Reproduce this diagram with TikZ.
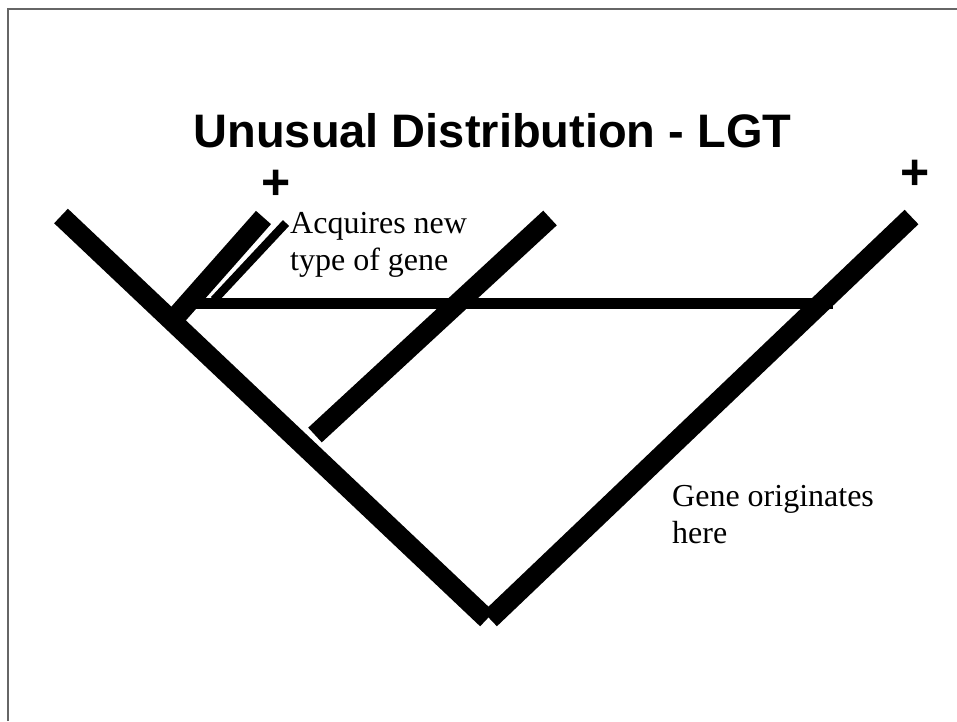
\documentclass[tikz,border=0pt]{standalone}
\usepackage{fontspec}
\setmainfont{Liberation Serif}
\newfontfamily\helv{Liberation Sans}
\begin{document}
\begin{tikzpicture}[x=1pt,y=-1pt,
  branch/.style={line width=20pt, line cap=butt},
  thinbranch/.style={line width=8.5pt, line cap=butt},
  transfer/.style={line width=11pt, line cap=butt},
  label/.style={inner sep=0pt, align=left, font=\fontsize{32}{37}\selectfont},
  plus/.style={inner sep=0pt, font=\helv\bfseries\fontsize{50}{50}\selectfont}]
\useasboundingbox (0,0) rectangle (957,721);
\draw[gray!80!black, line width=1.5pt] (8,721) -- (8,9) -- (957,9);
% coordinates
\coordinate (lt) at (61,216);
\coordinate (la) at (487,619);
\coordinate (ra) at (490,619);
\coordinate (rt) at (911.5,217);
\coordinate (mb) at (315,435);
\coordinate (mt) at (550,218);
\coordinate (kb) at (172,321);
\coordinate (kt) at (263.5,217.5);
\coordinate (tb) at (214,300);
\coordinate (tt) at (286,223);
\coordinate (hl) at (195,303);
\coordinate (hr) at (833,303);
% tree
\draw[branch] (lt) -- (la);
\draw[branch] (ra) -- (rt);
\draw[branch] (mb) -- (mt);
\draw[branch] (kb) -- (kt);
\draw[thinbranch] (tb) -- (tt);
\draw[transfer] (hl) -- (hr);
% texts
\node[anchor=base, inner sep=0pt, font=\helv\bfseries\fontsize{47}{47}\selectfont] (title) at (492.5,147) {Unusual Distribution - LGT};
\node[plus] (p1) at (276.5,185) {+};
\node[plus] (p2) at (915,175) {+};
\node[label, anchor=base west] (acq) at (290,270.5) {Acquires new\\type of gene};
\node[label, anchor=base west] (orig) at (672,543) {Gene originates\\here};
\end{tikzpicture}
\end{document}
